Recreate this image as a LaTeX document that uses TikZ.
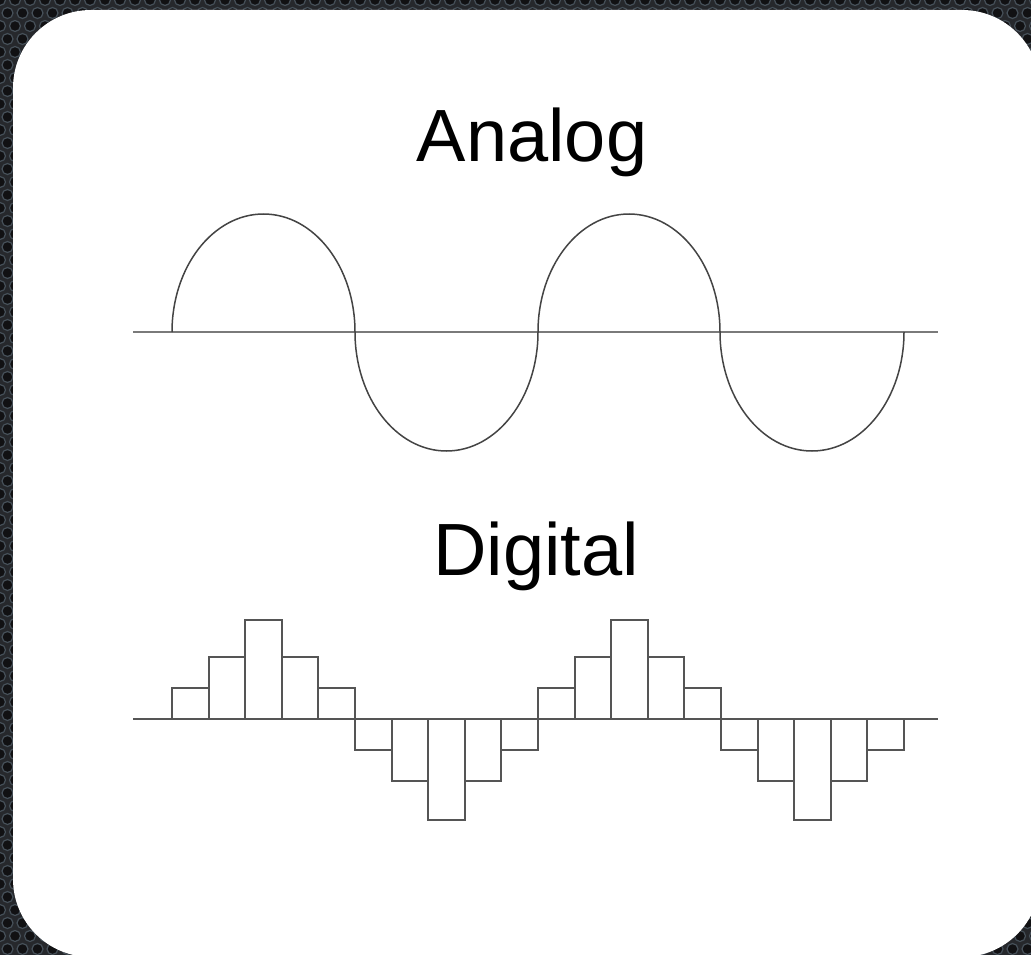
\documentclass[tikz,border=0pt]{standalone}
\usepackage{fontspec}
\setmainfont{Liberation Sans}
\definecolor{plate}{HTML}{26282C}
\definecolor{hole}{HTML}{111113}
\definecolor{rim}{HTML}{465059}
\definecolor{wave}{HTML}{444444}
\definecolor{axisA}{HTML}{7A7A7A}
\definecolor{axisD}{HTML}{555555}
\tikzset{
  wavepen/.style={draw=wave, line width=1.5pt},
  axisanalog/.style={draw=axisA, line width=2.6pt},
  axisdigital/.style={draw=axisD, line width=1.9pt},
  barpen/.style={draw=axisD, line width=1.9pt},
  title/.style={font=\fontsize{74}{80}\selectfont, text=black, inner sep=0pt, anchor=base},
}
\begin{document}
\begin{tikzpicture}[x=1pt,y=-1pt]
\useasboundingbox (0,0) rectangle (1031,955);
\clip (0,0) rectangle (1031,955);
% textured background
\fill[plate] (0,0) rectangle (1031,955);
\foreach \j in {0,...,74}{
  \pgfmathsetmacro{\off}{mod(\j,2)*7.5}
  \foreach \i in {0,...,69}{
    \filldraw[fill=hole, draw=rim, line width=1.2pt] (\i*15+\off, \j*13) circle (5.5);
  }
}
% white card
\fill[white, rounded corners=78] (13,10) rectangle (1040,957);
% titles
\node[title] (analog) at (532,162) {Analog};
\node[title] (digital) at (536,575) {Digital};
% analog wave
\draw[axisanalog] (133,332) -- (938,332);
\draw[wavepen] (172,332)
  arc[start angle=180, end angle=360, x radius=91.5, y radius=118]
  arc[start angle=180, end angle=0, x radius=91.5, y radius=119]
  arc[start angle=180, end angle=360, x radius=91, y radius=118]
  arc[start angle=180, end angle=0, x radius=92, y radius=119];
% digital wave
\draw[axisdigital] (133,719) -- (938,719);
\foreach \h [count=\k from 0] in {31,62,99,62,31,-31,-62,-101,-62,-31,31,62,99,62,31,-31,-62,-101,-62,-31}{
  \draw[barpen] (172+\k*36.6,719) rectangle (172+\k*36.6+36.6,719-\h);
}
\end{tikzpicture}
\end{document}
